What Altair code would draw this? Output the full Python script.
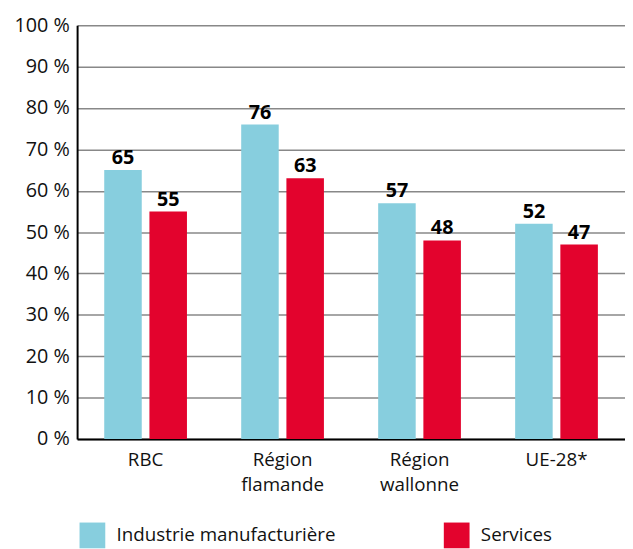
import altair as alt
import pandas as pd

categories = ["RBC", "Région\nflamande", "Région\nwallonne", "UE-28*"]
series = ["Industrie manufacturière", "Services"]
industrie = [65, 76, 57, 52]
services = [55, 63, 48, 47]
colors = ["#87CEDE", "#E3032D"]
y_ticks = [0, 10, 20, 30, 40, 50, 60, 70, 80, 90, 100]

rows = []
for i, c in enumerate(categories):
    rows.append({"cat": c, "serie": series[0], "val": industrie[i]})
    rows.append({"cat": c, "serie": series[1], "val": services[i]})
df = pd.DataFrame(rows)

FONT = "Open Sans"

x = alt.X("cat:N", sort=categories, title=None,
          scale=alt.Scale(paddingInner=0, paddingOuter=0),
          axis=alt.Axis(labelAngle=0, labelExpr="split(datum.value, '\\n')",
                        labelFontSize=19, labelFont=FONT, labelColor="#111",
                        labelPadding=12, ticks=False, domainColor="#000",
                        domainWidth=2, grid=False, labelLineHeight=25))
xo = alt.XOffset("serie:N", sort=series,
                 scale=alt.Scale(paddingInner=0.17, paddingOuter=0.6))
y = alt.Y("val:Q", title=None,
          scale=alt.Scale(domain=[0, 100], nice=False),
          axis=alt.Axis(values=y_ticks, labelExpr="datum.value + ' %'",
                        labelFontSize=20, labelFont=FONT, labelColor="#111",
                        ticks=False, domainColor="#000", domainWidth=2,
                        gridColor="#888", gridWidth=1.5, labelPadding=8))

color = alt.Color("serie:N", sort=series,
                  scale=alt.Scale(domain=series, range=colors),
                  legend=alt.Legend(title=None, orient="none", legendX=2, legendY=503,
                                    direction="horizontal", columns=2,
                                    symbolType="square", symbolSize=680,
                                    symbolStrokeWidth=0, labelFontSize=19,
                                    labelFont=FONT, labelColor="#111", labelLimit=0,
                                    columnPadding=109, labelOffset=11))

bars = alt.Chart(df).mark_bar().encode(x=x, xOffset=xo, y=y, color=color)
labels = alt.Chart(df).mark_text(dy=-2, baseline="bottom", fontSize=20, fontWeight="bold",
                                 font=FONT, color="#000").encode(
    x=alt.X("cat:N", sort=categories), xOffset=xo, y="val:Q", text="val:Q")

chart = (bars + labels).properties(
    width=555, height=419,
    padding={"left": 70, "top": 14, "right": 0, "bottom": 110},
    autosize=alt.AutoSizeParams(type="none"),
).configure_view(stroke=None)

chart.save("out.html", embed_options={"renderer": "svg", "actions": False})
